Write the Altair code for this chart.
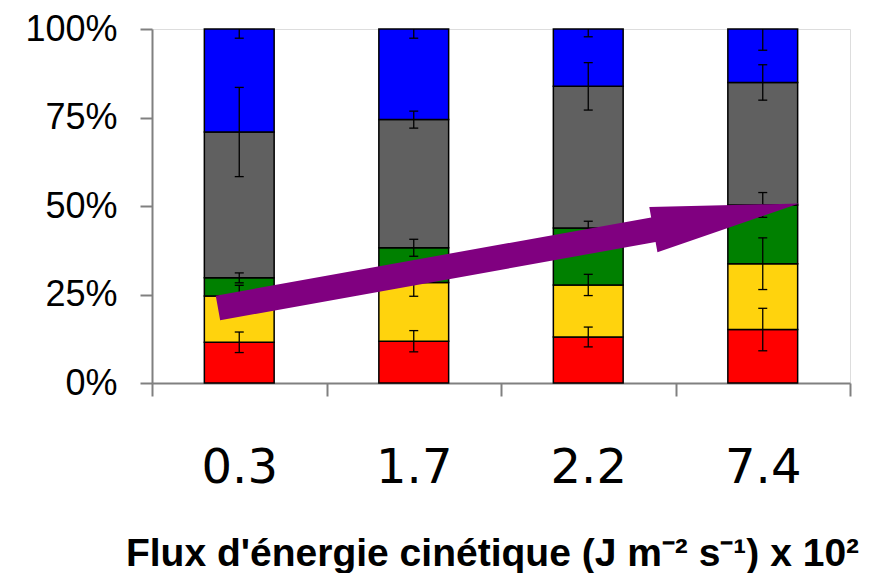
import math
import altair as alt
import pandas as pd

# ---- data ----
categories = ["0.3", "1.7", "2.2", "7.4"]
components = ["rouge", "jaune", "vert", "gris", "bleu"]
colors = ["#FF0000", "#FFD30D", "#008000", "#606060", "#0000FF"]

share_rouge = [11.5, 11.8, 13.0, 15.1]
share_jaune = [13.1, 16.6, 14.7, 18.6]
share_vert = [5.1, 9.8, 16.1, 16.6]
share_gris = [41.2, 36.2, 40.0, 34.6]
share_bleu = [29.1, 25.6, 16.2, 15.1]

err_rouge = [2.9, 3.0, 2.8, 6.0]
err_jaune = [3.0, 3.9, 3.0, 7.3]
err_vert = [1.4, 2.4, 1.9, 3.5]
err_gris = [12.6, 2.4, 6.7, 5.0]
err_bleu = [2.6, 2.6, 2.2, 6.0]

# arrow annotation (tail and tip, in band units along x and share along y)
arrow_x = [0.378, 3.708]
arrow_y = [0.212, 0.507]

shares = [share_rouge, share_jaune, share_vert, share_gris, share_bleu]
errors = [err_rouge, err_jaune, err_vert, err_gris, err_bleu]

# ---- layout ----
W, H = 698, 354

rows = []
for i, cat in enumerate(categories):
    cum = 0.0
    for j, comp in enumerate(components):
        v = shares[j][i] / 100.0
        e = errors[j][i] / 100.0
        rows.append({"cat": cat, "comp": comp, "y0": cum, "y1": cum + v,
                     "lo": cum + v - e, "hi": cum + v + e})
        cum += v
df = pd.DataFrame(rows)

caps = pd.concat([
    df[["cat", "lo"]].rename(columns={"lo": "y0"}),
    df[["cat", "hi"]].rename(columns={"hi": "y0"}),
])

xscale = alt.Scale(domain=categories, paddingInner=0, paddingOuter=0)
yscale = alt.Scale(domain=[0, 1], nice=False, zero=True)

title_text = "Flux d'énergie cinétique (J m\u207b\u00b2 s\u207b\u00b9) x 10\u00b2"

x_axis = alt.Axis(
    tickBand="extent", labelAngle=0, labelFont="DejaVu Sans", labelFontSize=48,
    labelColor="black", labelBaseline="alphabetic", labelPadding=86,
    tickSize=13, tickColor="#808080", tickWidth=2,
    domainColor="#808080", domainWidth=2,
    title=title_text, titleFont="Liberation Sans",
    titleFontWeight="bold", titleFontSize=39, titleColor="black",
    titleX=340, titleY=182, titleBaseline="alphabetic", titleAlign="center",
    titleLimit=2000,
)
y_axis = alt.Axis(
    values=[0, 0.25, 0.5, 0.75, 1], format=".0%", labelFont="Liberation Sans",
    labelFontSize=36, labelColor="black", labelPadding=23, tickSize=12,
    tickColor="#808080", tickWidth=2, domainColor="#808080", domainWidth=2,
    grid=False, title="",
)

X = alt.X("cat:N", scale=xscale, axis=x_axis, sort=categories)

bars = alt.Chart(df).mark_bar(
    stroke="black", strokeWidth=1.5, width=alt.RelativeBandSize(0.4)
).encode(
    x=X,
    y=alt.Y("y0:Q", scale=yscale, axis=y_axis),
    y2="y1:Q",
    color=alt.Color("comp:N", scale=alt.Scale(domain=components, range=colors), legend=None),
)

err_lines = alt.Chart(df).mark_rule(color="black", strokeWidth=1.3, clip=True).encode(
    x=X,
    y=alt.Y("lo:Q", scale=yscale, axis=y_axis),
    y2="hi:Q",
)

err_caps = alt.Chart(caps).mark_tick(color="black", thickness=1.3, size=9, clip=True, opacity=1).encode(
    x=X,
    y=alt.Y("y0:Q", scale=yscale, axis=y_axis),
)

base = alt.layer(bars, err_lines, err_caps)

# arrow drawn as one custom symbol centred between tail and tip
dx_px = (arrow_x[1] - arrow_x[0]) * (W / 4)
dy_px = (arrow_y[1] - arrow_y[0]) * H
length = math.hypot(dx_px, dy_px)
angle = (360 - math.degrees(math.atan2(dy_px, dx_px))) % 360
half = length / 2
sw = 12.5 / half      # shaft half width
hw = 23.0 / half      # head half width
hb = 1 - 148.0 / half  # head base
arrow_path = (f"M -1 {-sw:.4f} L {hb:.4f} {-sw:.4f} L {hb:.4f} {-hw:.4f} L 1 0 "
              f"L {hb:.4f} {hw:.4f} L {hb:.4f} {sw:.4f} L -1 {sw:.4f} Z")
arrow_df = pd.DataFrame({"ax": [sum(arrow_x) / 2], "y0": [sum(arrow_y) / 2]})

arrow = alt.Chart(arrow_df).mark_point(
    shape=arrow_path, filled=True, size=length ** 2, angle=angle,
    color="#800080", opacity=1, strokeWidth=0,
).encode(
    x=alt.X("ax:Q", scale=alt.Scale(domain=[0, 4], nice=False, zero=False), axis=None),
    y=alt.Y("y0:Q", scale=yscale, axis=y_axis),
)

chart = alt.layer(base, arrow).resolve_scale(
    x="independent"
).properties(
    width=W, height=H,
    autosize=alt.AutoSizeParams(type="none"),
    padding={"left": 144, "top": 21, "right": 15, "bottom": 190},
).configure_view(strokeWidth=0).configure(background="white")

chart.save("out.html", embed_options={"renderer": "svg", "actions": False})
